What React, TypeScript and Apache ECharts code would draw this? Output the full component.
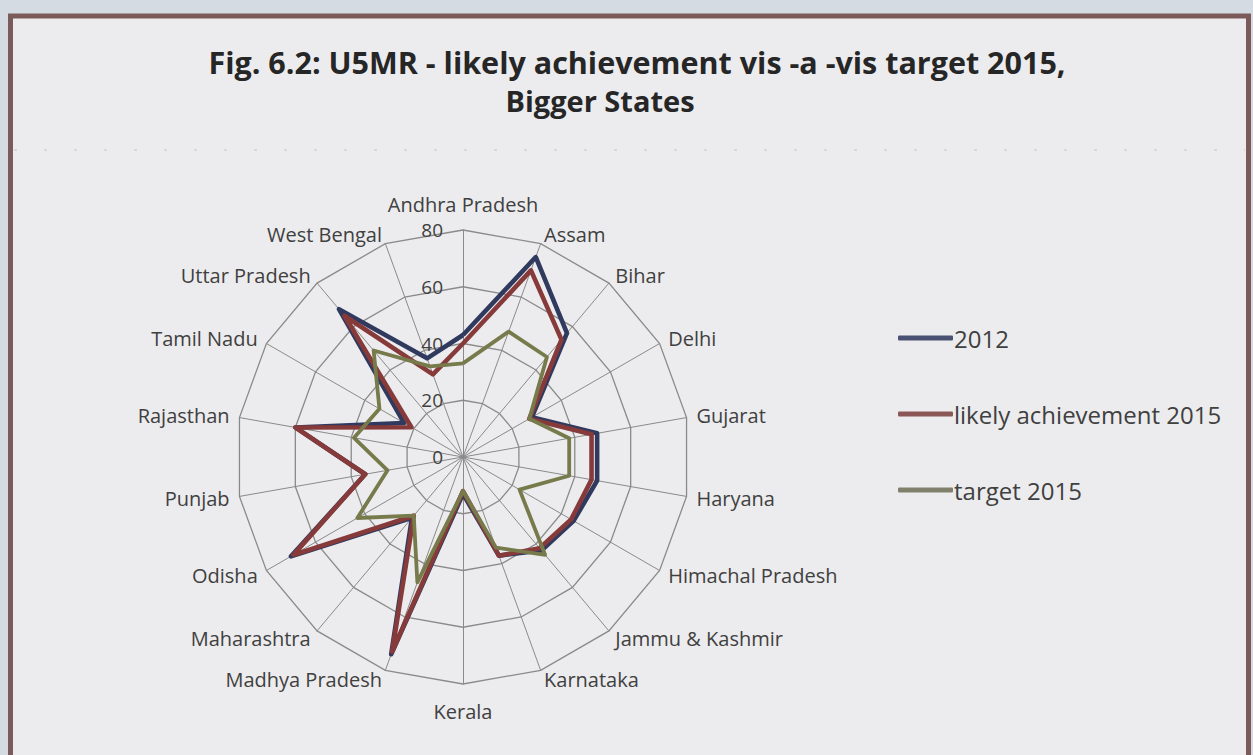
import React, { useEffect, useRef } from "react";
import * as echarts from "echarts";

const categories = [
  "Andhra Pradesh", "Assam", "Bihar", "Delhi", "Gujarat", "Haryana",
  "Himachal Pradesh", "Jammu & Kashmir", "Karnataka", "Kerala",
  "Madhya Pradesh", "Maharashtra", "Odisha", "Punjab", "Rajasthan",
  "Tamil Nadu", "Uttar Pradesh", "West Bengal",
];
const values2012 = [43, 75, 57, 28, 48, 48, 45, 43, 37, 13, 74, 28, 70, 35, 60, 24, 68, 37];
const valuesLikely2015 = [40, 70, 54, 27, 46, 46, 44, 42, 37, 12, 73, 27, 69, 35, 60, 21, 65, 31];
const valuesTarget2015 = [33, 47, 46, 27, 38, 38, 23, 45, 34, 12, 47, 27, 43, 27, 39, 34, 49, 34];
const seriesNames = ["2012", "likely achievement 2015", "target 2015"];
const seriesColors = ["#2f3a5e", "#873a3a", "#777a4a"];
const legendColors = ["#4a5274", "#8a5656", "#80816c"];
const axisMax = 80;

// ECharts radar places indicators counter-clockwise; the reference goes clockwise.
const order = [0, ...categories.map((_, i) => i).slice(1).reverse()];

const FONT = "Open Sans";

export default function App() {
  const ref = useRef<HTMLDivElement>(null);
  useEffect(() => {
    const chart = echarts.init(ref.current!, undefined, { renderer: "svg" });
    const allValues = [values2012, valuesLikely2015, valuesTarget2015];
    const nameStyle = { fontFamily: FONT, fontSize: 20, color: "#404040" };
    chart.setOption({
      animation: false,
      backgroundColor: "#d4dbe3",
      color: legendColors,
      textStyle: { fontFamily: FONT },
      graphic: [
        {
          type: "rect",
          z: -10,
          shape: { x: 10.5, y: 16, width: 1238, height: 800 },
          style: { fill: "#ececee", stroke: "#7b5a5a", lineWidth: 5 },
        },
        {
          type: "line",
          z: -9,
          shape: { x1: 14, y1: 150, x2: 1245, y2: 150 },
          style: { stroke: "#d2d2d6", lineWidth: 1.5, lineDash: [3, 27] },
        },
        {
          type: "text",
          x: 637,
          y: 62,
          style: {
            text: "Fig. 6.2: U5MR - likely achievement vis -a -vis target 2015,",
            fontFamily: FONT,
            fontWeight: "bold",
            fontSize: 30.5,
            fill: "#262626",
            align: "center",
            verticalAlign: "middle",
          },
        },
        {
          type: "text",
          x: 600,
          y: 100,
          style: {
            text: "Bigger States",
            fontFamily: FONT,
            fontWeight: "bold",
            fontSize: 29,
            fill: "#262626",
            align: "center",
            verticalAlign: "middle",
          },
        },
      ],
      legend: {
        orient: "vertical",
        left: 893,
        top: 321,
        itemWidth: 55,
        itemHeight: 5,
        itemGap: 52,
        icon: "roundRect",
        data: seriesNames,
        textStyle: { fontFamily: FONT, fontSize: 24, color: "#404040", padding: [0, 0, 0, -4] },
      },
      radar: {
        center: [463, 457],
        radius: 227,
        startAngle: 90,
        shape: "polygon",
        splitNumber: 4,
        nameGap: 10,
        indicator: order.map((i, k) => ({
          name: categories[i],
          min: 0,
          max: axisMax,
          ...(k === 0 ? { axisLabel: { show: true } } : {}),
        })),
        axisName: {
          ...nameStyle,
          formatter: (name: string) =>
            name === "Andhra Pradesh" ? `{t|${name}}` : name === "Kerala" ? `{b|${name}}` : name,
          rich: {
            t: { ...nameStyle, padding: [0, 0, 6, 0] },
            b: { ...nameStyle, padding: [7, 0, 0, 0] },
          },
        },
        axisLine: { lineStyle: { color: "#8a8a8a", width: 1 } },
        splitLine: { lineStyle: { color: "#8a8a8a", width: 1.3 } },
        splitArea: { show: false },
        axisTick: { show: false },
        axisLabel: { show: false, color: "#404040", fontFamily: FONT, fontSize: 19, margin: 20 },
      },
      series: [
        {
          type: "radar",
          symbol: "none",
          data: seriesNames.map((name, s) => ({
            name,
            value: order.map((i) => allValues[s][i]),
            lineStyle: { color: seriesColors[s], width: s === 2 ? 3.8 : 4.6 },
            itemStyle: { color: legendColors[s] },
          })),
        },
      ],
    });
    return () => chart.dispose();
  }, []);
  return (
    <div
      ref={ref}
      style={{ position: "fixed", left: 0, top: 0, width: 1253, height: 755 }}
    />
  );
}
